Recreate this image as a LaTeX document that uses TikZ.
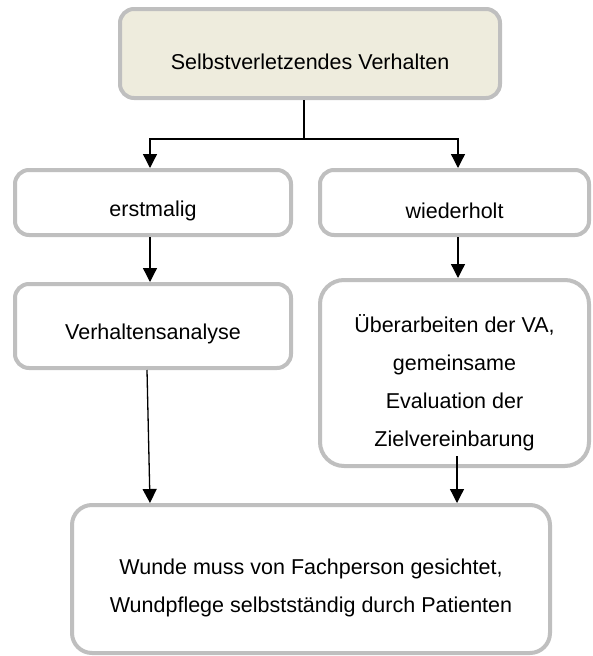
\documentclass[tikz,border=0pt]{standalone}
\usepackage{fontspec}
\setmainfont{Liberation Sans}
\usetikzlibrary{arrows.meta,calc}
\definecolor{bordergray}{RGB}{191,191,191}
\definecolor{beigefill}{RGB}{238,236,221}
\begin{document}
\begin{tikzpicture}[x=1pt,y=1pt,
  box/.style={draw=bordergray, line width=4pt, rounded corners=14pt, fill=white, inner sep=0pt},
  txt/.style={font=\fontsize{21.5}{38}\selectfont, align=center, inner sep=0pt},
  arr/.style={-{Triangle[width=14pt,length=14pt]}, line width=1.3pt}]
\useasboundingbox (0,0) rectangle (593,-656);
% boxes
\node[box, fill=beigefill, minimum width=380pt, minimum height=89pt] (top) at (310,-53.5) {};
\node[box, minimum width=276pt, minimum height=65pt] (erst) at (153,-202.5) {};
\node[box, minimum width=269pt, minimum height=65pt] (wied) at (454.5,-202.5) {};
\node[box, minimum width=276pt, minimum height=84pt] (va) at (153,-326) {};
\node[box, rounded corners=24pt, minimum width=269pt, minimum height=186pt] (ub) at (454.5,-373) {};
\node[box, rounded corners=20pt, minimum width=478pt, minimum height=148pt] (bot) at (311,-579) {};
% texts
\node[txt] (ttop) at ([yshift=-8pt]top.center) {Selbstverletzendes Verhalten};
\node[txt] (terst) at ([yshift=-8pt]erst.center) {erstmalig};
\node[txt] (twied) at ([yshift=-8pt]wied.center) {wiederholt};
\node[txt] (tva) at ([yshift=-8pt]va.center) {Verhaltensanalyse};
\node[txt] (tub) at ([yshift=-10pt]ub.center) {Überarbeiten der VA,\\gemeinsame\\Evaluation der\\Zielvereinbarung};
\node[txt] (tbot) at ([yshift=-9pt]bot.center) {Wunde muss von Fachperson gesichtet,\\Wundpflege selbstständig durch Patienten};
% connectors
\coordinate (j) at (304,-139);
\draw[line width=1.3pt] (top.south -| j) -- (j);
\draw[arr] (j) -| ([xshift=-3pt]erst.north);
\draw[arr] (j) -| ([xshift=3.5pt]wied.north);
\draw[arr] ([xshift=-3pt]erst.south) -- ([xshift=-3pt]va.north);
\draw[arr] ([xshift=3.5pt]wied.south) -- ([xshift=3.5pt]ub.north);
\coordinate (vaout) at ([xshift=-6pt]va.south);
\coordinate (botinl) at (150,0);
\draw[arr] (vaout) -- (bot.north -| botinl);
\coordinate (ubout) at ([xshift=2.5pt,yshift=12pt]ub.south);
\draw[arr] (ubout) -- (bot.north -| ubout);
\end{tikzpicture}
\end{document}
